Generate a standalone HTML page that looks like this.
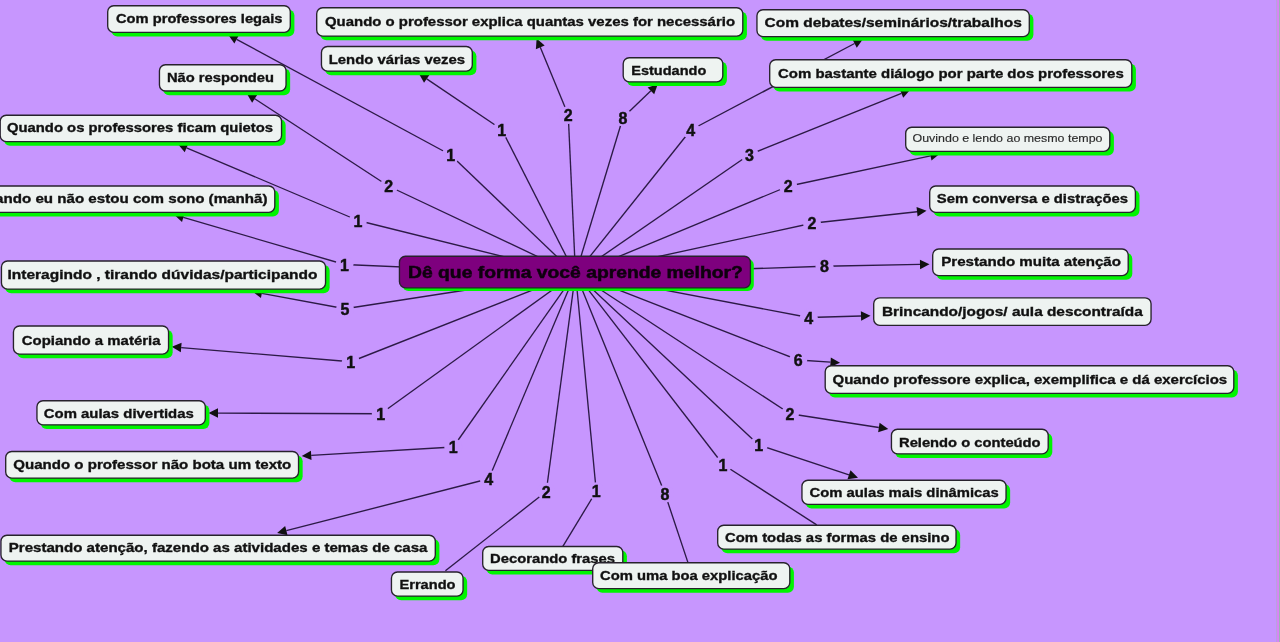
<!DOCTYPE html>
<html><head><meta charset="utf-8"><style>html,body{margin:0;padding:0;width:1280px;height:642px;overflow:hidden;background:#c796fe;font-family:"Liberation Sans",sans-serif}</style></head>
<body>
<svg width="1280" height="642" viewBox="0 0 1280 642" style="position:absolute;left:0;top:0;will-change:transform">
<rect x="0" y="0" width="1280" height="642" fill="#c796fe"/>
<rect x="1276" y="0" width="1" height="642" fill="#b8a2e0"/>
<rect x="1277" y="0" width="2" height="642" fill="#d883f6"/>
<rect x="1279" y="0" width="1" height="642" fill="#9cb4b4"/>
<line x1="575.5" y1="274.5" x2="450.75" y2="155" stroke="#2c1a46" stroke-width="1.35"/>
<line x1="450.75" y1="155" x2="236.61" y2="39.32" stroke="#2c1a46" stroke-width="1.35"/>
<polygon points="228.25,34.80 238.86,35.14 234.35,43.49" fill="#111"/>
<line x1="575.5" y1="274.5" x2="568.25" y2="115" stroke="#2c1a46" stroke-width="1.35"/>
<line x1="568.25" y1="115" x2="540.27" y2="47.33" stroke="#2c1a46" stroke-width="1.35"/>
<polygon points="536.64,38.55 544.66,45.51 535.88,49.14" fill="#111"/>
<line x1="575.5" y1="274.5" x2="690.75" y2="130" stroke="#2c1a46" stroke-width="1.35"/>
<line x1="690.75" y1="130" x2="854.57" y2="43.49" stroke="#2c1a46" stroke-width="1.35"/>
<polygon points="862.97,39.05 856.79,47.69 852.35,39.29" fill="#111"/>
<line x1="575.5" y1="274.5" x2="501.75" y2="129.5" stroke="#2c1a46" stroke-width="1.35"/>
<line x1="501.75" y1="129.5" x2="426.69" y2="78.86" stroke="#2c1a46" stroke-width="1.35"/>
<polygon points="418.81,73.55 429.35,74.93 424.03,82.80" fill="#111"/>
<line x1="575.5" y1="274.5" x2="623" y2="117.5" stroke="#2c1a46" stroke-width="1.35"/>
<line x1="623" y1="117.5" x2="650.89" y2="90.86" stroke="#2c1a46" stroke-width="1.35"/>
<polygon points="657.76,84.30 654.17,94.30 647.61,87.43" fill="#111"/>
<line x1="575.5" y1="274.5" x2="749.5" y2="154.5" stroke="#2c1a46" stroke-width="1.35"/>
<line x1="749.5" y1="154.5" x2="901.44" y2="93.35" stroke="#2c1a46" stroke-width="1.35"/>
<polygon points="910.25,89.80 903.21,97.75 899.67,88.94" fill="#111"/>
<line x1="575.5" y1="274.5" x2="388.75" y2="186.25" stroke="#2c1a46" stroke-width="1.35"/>
<line x1="388.75" y1="186.25" x2="254.71" y2="98.74" stroke="#2c1a46" stroke-width="1.35"/>
<polygon points="246.76,93.55 257.31,94.77 252.12,102.72" fill="#111"/>
<line x1="575.5" y1="274.5" x2="358" y2="220.5" stroke="#2c1a46" stroke-width="1.35"/>
<line x1="358" y1="220.5" x2="186.56" y2="147.76" stroke="#2c1a46" stroke-width="1.35"/>
<polygon points="177.82,144.05 188.42,143.39 184.71,152.13" fill="#111"/>
<line x1="575.5" y1="274.5" x2="788.25" y2="186.25" stroke="#2c1a46" stroke-width="1.35"/>
<line x1="788.25" y1="186.25" x2="930.51" y2="155.79" stroke="#2c1a46" stroke-width="1.35"/>
<polygon points="939.80,153.80 931.50,160.43 929.51,151.14" fill="#111"/>
<line x1="575.5" y1="274.5" x2="344.5" y2="264.5" stroke="#2c1a46" stroke-width="1.35"/>
<line x1="344.5" y1="264.5" x2="183.33" y2="217.46" stroke="#2c1a46" stroke-width="1.35"/>
<polygon points="174.21,214.80 184.66,212.90 182.00,222.02" fill="#111"/>
<line x1="575.5" y1="274.5" x2="812" y2="223.25" stroke="#2c1a46" stroke-width="1.35"/>
<line x1="812" y1="223.25" x2="917.06" y2="211.76" stroke="#2c1a46" stroke-width="1.35"/>
<polygon points="926.50,210.73 917.57,216.48 916.54,207.04" fill="#111"/>
<line x1="575.5" y1="274.5" x2="824.5" y2="266.25" stroke="#2c1a46" stroke-width="1.35"/>
<line x1="824.5" y1="266.25" x2="920.00" y2="264.40" stroke="#2c1a46" stroke-width="1.35"/>
<polygon points="929.50,264.21 920.09,269.14 919.91,259.65" fill="#111"/>
<line x1="575.5" y1="273.2" x2="345" y2="308.75" stroke="#2c1a46" stroke-width="1.35"/>
<line x1="345" y1="308.75" x2="261.84" y2="293.29" stroke="#2c1a46" stroke-width="1.35"/>
<polygon points="252.50,291.55 262.71,288.62 260.97,297.96" fill="#111"/>
<line x1="575.5" y1="273.2" x2="808.75" y2="317.5" stroke="#2c1a46" stroke-width="1.35"/>
<line x1="808.75" y1="317.5" x2="861.00" y2="315.97" stroke="#2c1a46" stroke-width="1.35"/>
<polygon points="870.50,315.70 861.14,320.72 860.87,311.23" fill="#111"/>
<line x1="575.5" y1="273.2" x2="350.75" y2="361.75" stroke="#2c1a46" stroke-width="1.35"/>
<line x1="350.75" y1="361.75" x2="181.22" y2="347.55" stroke="#2c1a46" stroke-width="1.35"/>
<polygon points="171.75,346.76 181.61,342.82 180.82,352.29" fill="#111"/>
<line x1="575.5" y1="273.2" x2="798.25" y2="360" stroke="#2c1a46" stroke-width="1.35"/>
<line x1="798.25" y1="360" x2="830.52" y2="362.16" stroke="#2c1a46" stroke-width="1.35"/>
<polygon points="840.00,362.80 830.20,366.90 830.84,357.42" fill="#111"/>
<line x1="575.5" y1="273.2" x2="380.75" y2="413.75" stroke="#2c1a46" stroke-width="1.35"/>
<line x1="380.75" y1="413.75" x2="218.00" y2="413.12" stroke="#2c1a46" stroke-width="1.35"/>
<polygon points="208.50,413.09 218.02,408.37 217.98,417.87" fill="#111"/>
<line x1="575.5" y1="273.2" x2="790" y2="413.75" stroke="#2c1a46" stroke-width="1.35"/>
<line x1="790" y1="413.75" x2="878.86" y2="427.46" stroke="#2c1a46" stroke-width="1.35"/>
<polygon points="888.25,428.91 878.14,432.16 879.59,422.77" fill="#111"/>
<line x1="575.5" y1="273.2" x2="453.25" y2="447" stroke="#2c1a46" stroke-width="1.35"/>
<line x1="453.25" y1="447" x2="311.23" y2="455.37" stroke="#2c1a46" stroke-width="1.35"/>
<polygon points="301.75,455.93 310.95,450.63 311.51,460.11" fill="#111"/>
<line x1="575.5" y1="273.2" x2="758.75" y2="445" stroke="#2c1a46" stroke-width="1.35"/>
<line x1="758.75" y1="445" x2="848.98" y2="474.82" stroke="#2c1a46" stroke-width="1.35"/>
<polygon points="858.00,477.80 847.49,479.33 850.47,470.31" fill="#111"/>
<line x1="575.5" y1="273.2" x2="723" y2="464.5" stroke="#2c1a46" stroke-width="1.35"/>
<line x1="723" y1="464.5" x2="816.68" y2="524.83" stroke="#2c1a46" stroke-width="1.35"/>
<line x1="575.5" y1="273.2" x2="488.75" y2="478.75" stroke="#2c1a46" stroke-width="1.35"/>
<line x1="488.75" y1="478.75" x2="286.33" y2="530.64" stroke="#2c1a46" stroke-width="1.35"/>
<polygon points="277.13,533.00 285.15,526.04 287.51,535.24" fill="#111"/>
<line x1="575.5" y1="273.2" x2="596.25" y2="491.25" stroke="#2c1a46" stroke-width="1.35"/>
<line x1="596.25" y1="491.25" x2="562.72" y2="546.71" stroke="#2c1a46" stroke-width="1.35"/>
<line x1="575.5" y1="273.2" x2="665" y2="493.75" stroke="#2c1a46" stroke-width="1.35"/>
<line x1="665" y1="493.75" x2="688.13" y2="563.15" stroke="#2c1a46" stroke-width="1.35"/>
<line x1="575.5" y1="273.2" x2="546.25" y2="491.5" stroke="#2c1a46" stroke-width="1.35"/>
<line x1="546.25" y1="491.5" x2="445.43" y2="570.74" stroke="#2c1a46" stroke-width="1.35"/>
<circle cx="450.75" cy="155" r="9" fill="#c796fe"/>
<text x="450.75" y="161.1" text-anchor="middle" font-family="Liberation Sans" font-weight="bold" font-size="16" fill="#111" stroke="#111" stroke-width="0.45">1</text>
<circle cx="568.25" cy="115" r="9" fill="#c796fe"/>
<text x="568.25" y="121.1" text-anchor="middle" font-family="Liberation Sans" font-weight="bold" font-size="16" fill="#111" stroke="#111" stroke-width="0.45">2</text>
<circle cx="690.75" cy="130" r="9" fill="#c796fe"/>
<text x="690.75" y="136.1" text-anchor="middle" font-family="Liberation Sans" font-weight="bold" font-size="16" fill="#111" stroke="#111" stroke-width="0.45">4</text>
<circle cx="501.75" cy="129.5" r="9" fill="#c796fe"/>
<text x="501.75" y="135.6" text-anchor="middle" font-family="Liberation Sans" font-weight="bold" font-size="16" fill="#111" stroke="#111" stroke-width="0.45">1</text>
<circle cx="623" cy="117.5" r="9" fill="#c796fe"/>
<text x="623" y="123.6" text-anchor="middle" font-family="Liberation Sans" font-weight="bold" font-size="16" fill="#111" stroke="#111" stroke-width="0.45">8</text>
<circle cx="749.5" cy="154.5" r="9" fill="#c796fe"/>
<text x="749.5" y="160.6" text-anchor="middle" font-family="Liberation Sans" font-weight="bold" font-size="16" fill="#111" stroke="#111" stroke-width="0.45">3</text>
<circle cx="388.75" cy="186.25" r="9" fill="#c796fe"/>
<text x="388.75" y="192.35" text-anchor="middle" font-family="Liberation Sans" font-weight="bold" font-size="16" fill="#111" stroke="#111" stroke-width="0.45">2</text>
<circle cx="358" cy="220.5" r="9" fill="#c796fe"/>
<text x="358" y="226.6" text-anchor="middle" font-family="Liberation Sans" font-weight="bold" font-size="16" fill="#111" stroke="#111" stroke-width="0.45">1</text>
<circle cx="788.25" cy="186.25" r="9" fill="#c796fe"/>
<text x="788.25" y="192.35" text-anchor="middle" font-family="Liberation Sans" font-weight="bold" font-size="16" fill="#111" stroke="#111" stroke-width="0.45">2</text>
<circle cx="344.5" cy="264.5" r="9" fill="#c796fe"/>
<text x="344.5" y="270.6" text-anchor="middle" font-family="Liberation Sans" font-weight="bold" font-size="16" fill="#111" stroke="#111" stroke-width="0.45">1</text>
<circle cx="812" cy="223.25" r="9" fill="#c796fe"/>
<text x="812" y="229.35" text-anchor="middle" font-family="Liberation Sans" font-weight="bold" font-size="16" fill="#111" stroke="#111" stroke-width="0.45">2</text>
<circle cx="824.5" cy="266.25" r="9" fill="#c796fe"/>
<text x="824.5" y="272.35" text-anchor="middle" font-family="Liberation Sans" font-weight="bold" font-size="16" fill="#111" stroke="#111" stroke-width="0.45">8</text>
<circle cx="345" cy="308.75" r="9" fill="#c796fe"/>
<text x="345" y="314.85" text-anchor="middle" font-family="Liberation Sans" font-weight="bold" font-size="16" fill="#111" stroke="#111" stroke-width="0.45">5</text>
<circle cx="808.75" cy="317.5" r="9" fill="#c796fe"/>
<text x="808.75" y="323.6" text-anchor="middle" font-family="Liberation Sans" font-weight="bold" font-size="16" fill="#111" stroke="#111" stroke-width="0.45">4</text>
<circle cx="350.75" cy="361.75" r="9" fill="#c796fe"/>
<text x="350.75" y="367.85" text-anchor="middle" font-family="Liberation Sans" font-weight="bold" font-size="16" fill="#111" stroke="#111" stroke-width="0.45">1</text>
<circle cx="798.25" cy="360" r="9" fill="#c796fe"/>
<text x="798.25" y="366.1" text-anchor="middle" font-family="Liberation Sans" font-weight="bold" font-size="16" fill="#111" stroke="#111" stroke-width="0.45">6</text>
<circle cx="380.75" cy="413.75" r="9" fill="#c796fe"/>
<text x="380.75" y="419.85" text-anchor="middle" font-family="Liberation Sans" font-weight="bold" font-size="16" fill="#111" stroke="#111" stroke-width="0.45">1</text>
<circle cx="790" cy="413.75" r="9" fill="#c796fe"/>
<text x="790" y="419.85" text-anchor="middle" font-family="Liberation Sans" font-weight="bold" font-size="16" fill="#111" stroke="#111" stroke-width="0.45">2</text>
<circle cx="453.25" cy="447" r="9" fill="#c796fe"/>
<text x="453.25" y="453.1" text-anchor="middle" font-family="Liberation Sans" font-weight="bold" font-size="16" fill="#111" stroke="#111" stroke-width="0.45">1</text>
<circle cx="758.75" cy="445" r="9" fill="#c796fe"/>
<text x="758.75" y="451.1" text-anchor="middle" font-family="Liberation Sans" font-weight="bold" font-size="16" fill="#111" stroke="#111" stroke-width="0.45">1</text>
<circle cx="723" cy="464.5" r="9" fill="#c796fe"/>
<text x="723" y="470.6" text-anchor="middle" font-family="Liberation Sans" font-weight="bold" font-size="16" fill="#111" stroke="#111" stroke-width="0.45">1</text>
<circle cx="488.75" cy="478.75" r="9" fill="#c796fe"/>
<text x="488.75" y="484.85" text-anchor="middle" font-family="Liberation Sans" font-weight="bold" font-size="16" fill="#111" stroke="#111" stroke-width="0.45">4</text>
<circle cx="596.25" cy="491.25" r="9" fill="#c796fe"/>
<text x="596.25" y="497.35" text-anchor="middle" font-family="Liberation Sans" font-weight="bold" font-size="16" fill="#111" stroke="#111" stroke-width="0.45">1</text>
<circle cx="665" cy="493.75" r="9" fill="#c796fe"/>
<text x="665" y="499.85" text-anchor="middle" font-family="Liberation Sans" font-weight="bold" font-size="16" fill="#111" stroke="#111" stroke-width="0.45">8</text>
<circle cx="546.25" cy="491.5" r="9" fill="#c796fe"/>
<text x="546.25" y="497.6" text-anchor="middle" font-family="Liberation Sans" font-weight="bold" font-size="16" fill="#111" stroke="#111" stroke-width="0.45">2</text>
<rect x="402.45" y="259" width="351.35" height="32" rx="6" fill="#00f500"/>
<rect x="399.45" y="256.2" width="350.95000000000005" height="31.6" rx="6" fill="#7e007e" stroke="#27222c" stroke-width="1.35"/>
<text x="408" y="277.5" font-family="Liberation Sans" font-weight="bold" font-size="17" fill="#0e000e" stroke="#0e000e" stroke-width="0.5" textLength="334.79999999999995" lengthAdjust="spacingAndGlyphs">Dê que forma você aprende melhor?</text>
<rect x="111.4" y="9.5" width="183.0" height="27.0" rx="6" fill="#00f500"/>
<rect x="107.7" y="5.7" width="182.6" height="26.6" rx="6" fill="#eef3f1" stroke="#27222c" stroke-width="1.35"/>
<text x="116" y="23.25" font-family="Liberation Sans" font-weight="bold" font-size="13.5" fill="#111" stroke="#111" stroke-width="0.35" textLength="166.50" lengthAdjust="spacingAndGlyphs">Com professores legais</text>
<rect x="320.4" y="11.5" width="426.5" height="28.75" rx="6" fill="#00f500"/>
<rect x="316.7" y="7.7" width="426.1" height="28.35" rx="6" fill="#eef3f1" stroke="#27222c" stroke-width="1.35"/>
<text x="325" y="26.25" font-family="Liberation Sans" font-weight="bold" font-size="13.5" fill="#111" stroke="#111" stroke-width="0.35" textLength="410.00" lengthAdjust="spacingAndGlyphs">Quando o professor explica quantas vezes for necessário</text>
<rect x="760.65" y="13.5" width="272.75" height="27.25" rx="6" fill="#00f500"/>
<rect x="756.95" y="9.7" width="272.35" height="26.85" rx="6" fill="#eef3f1" stroke="#27222c" stroke-width="1.35"/>
<text x="764.5" y="27" font-family="Liberation Sans" font-weight="bold" font-size="13.5" fill="#111" stroke="#111" stroke-width="0.35" textLength="257.25" lengthAdjust="spacingAndGlyphs">Com debates/seminários/trabalhos</text>
<rect x="325.15" y="50.25" width="151.25" height="25.0" rx="6" fill="#00f500"/>
<rect x="321.45" y="46.45" width="150.85" height="24.6" rx="6" fill="#eef3f1" stroke="#27222c" stroke-width="1.35"/>
<text x="328.75" y="63.75" font-family="Liberation Sans" font-weight="bold" font-size="13.5" fill="#111" stroke="#111" stroke-width="0.35" textLength="136.25" lengthAdjust="spacingAndGlyphs">Lendo várias vezes</text>
<rect x="626.9" y="61.5" width="100" height="24.5" rx="6" fill="#00f500"/>
<rect x="623.2" y="57.7" width="99.6" height="24.1" rx="6" fill="#eef3f1" stroke="#27222c" stroke-width="1.35"/>
<text x="631.25" y="75" font-family="Liberation Sans" font-weight="bold" font-size="13.5" fill="#111" stroke="#111" stroke-width="0.35" textLength="75.00" lengthAdjust="spacingAndGlyphs">Estudando</text>
<rect x="773.4" y="63.5" width="362.5" height="28.0" rx="6" fill="#00f500"/>
<rect x="769.7" y="59.7" width="362.1" height="27.6" rx="6" fill="#eef3f1" stroke="#27222c" stroke-width="1.35"/>
<text x="778" y="77.5" font-family="Liberation Sans" font-weight="bold" font-size="13.5" fill="#111" stroke="#111" stroke-width="0.35" textLength="345.75" lengthAdjust="spacingAndGlyphs">Com bastante diálogo por parte dos professores</text>
<rect x="163.15" y="68.5" width="127.0" height="26.75" rx="6" fill="#00f500"/>
<rect x="159.45" y="64.7" width="126.6" height="26.35" rx="6" fill="#eef3f1" stroke="#27222c" stroke-width="1.35"/>
<text x="167" y="82" font-family="Liberation Sans" font-weight="bold" font-size="13.5" fill="#111" stroke="#111" stroke-width="0.35" textLength="107.00" lengthAdjust="spacingAndGlyphs">Não respondeu</text>
<rect x="3.9" y="119" width="281.75" height="26.75" rx="6" fill="#00f500"/>
<rect x="0.2" y="115.2" width="281.35" height="26.35" rx="6" fill="#eef3f1" stroke="#27222c" stroke-width="1.35"/>
<text x="7" y="131.75" font-family="Liberation Sans" font-weight="bold" font-size="13.5" fill="#111" stroke="#111" stroke-width="0.35" textLength="266.00" lengthAdjust="spacingAndGlyphs">Quando os professores ficam quietos</text>
<rect x="909.4" y="131" width="204.5" height="24.5" rx="6" fill="#00f500"/>
<rect x="905.7" y="127.2" width="204.1" height="24.1" rx="6" fill="#eef3f1" stroke="#27222c" stroke-width="1.35"/>
<text x="912.5" y="142.2" font-family="Liberation Sans" font-weight="normal" font-size="11.5" fill="#2a2a2a" stroke="#2a2a2a" stroke-width="0.15" textLength="190.00" lengthAdjust="spacingAndGlyphs">Ouvindo e lendo ao mesmo tempo</text>
<rect x="-30.1" y="189.75" width="309" height="26.75" rx="6" fill="#00f500"/>
<rect x="-33.8" y="185.95" width="308.6" height="26.35" rx="6" fill="#eef3f1" stroke="#27222c" stroke-width="1.35"/>
<text x="-26" y="202.5" font-family="Liberation Sans" font-weight="bold" font-size="13.5" fill="#111" stroke="#111" stroke-width="0.35" textLength="293.50" lengthAdjust="spacingAndGlyphs">Quando eu não estou com sono (manhã)</text>
<rect x="933.4" y="189.75" width="206.0999999999999" height="26.75" rx="6" fill="#00f500"/>
<rect x="929.7" y="185.95" width="205.6999999999999" height="26.35" rx="6" fill="#eef3f1" stroke="#27222c" stroke-width="1.35"/>
<text x="936.75" y="202.5" font-family="Liberation Sans" font-weight="bold" font-size="13.5" fill="#111" stroke="#111" stroke-width="0.35" textLength="191.25" lengthAdjust="spacingAndGlyphs">Sem conversa e distrações</text>
<rect x="936.4" y="252.75" width="195.9000000000001" height="27.0" rx="6" fill="#00f500"/>
<rect x="932.7" y="248.95" width="195.50000000000009" height="26.6" rx="6" fill="#eef3f1" stroke="#27222c" stroke-width="1.35"/>
<text x="941.25" y="265.75" font-family="Liberation Sans" font-weight="bold" font-size="13.5" fill="#111" stroke="#111" stroke-width="0.35" textLength="179.75" lengthAdjust="spacingAndGlyphs">Prestando muita atenção</text>
<rect x="5.15" y="264.75" width="324.5" height="28.5" rx="6" fill="#00f500"/>
<rect x="1.45" y="260.95" width="324.1" height="28.1" rx="6" fill="#eef3f1" stroke="#27222c" stroke-width="1.35"/>
<text x="7.5" y="279.25" font-family="Liberation Sans" font-weight="bold" font-size="13.5" fill="#111" stroke="#111" stroke-width="0.35" textLength="310.00" lengthAdjust="spacingAndGlyphs">Interagindo , tirando dúvidas/participando</text>
<rect x="873.7" y="297.8" width="277.35" height="27.49999999999998" rx="6" fill="#eef3f1" stroke="#27222c" stroke-width="1.35"/>
<text x="881.9" y="316" font-family="Liberation Sans" font-weight="bold" font-size="13.5" fill="#111" stroke="#111" stroke-width="0.35" textLength="260.90" lengthAdjust="spacingAndGlyphs">Brincando/jogos/ aula descontraída</text>
<rect x="17.15" y="329.75" width="155.5" height="28.5" rx="6" fill="#00f500"/>
<rect x="13.45" y="325.95" width="155.1" height="28.1" rx="6" fill="#eef3f1" stroke="#27222c" stroke-width="1.35"/>
<text x="21.75" y="344.5" font-family="Liberation Sans" font-weight="bold" font-size="13.5" fill="#111" stroke="#111" stroke-width="0.35" textLength="138.75" lengthAdjust="spacingAndGlyphs">Copiando a matéria</text>
<rect x="828.9" y="369.5" width="409" height="28.0" rx="6" fill="#00f500"/>
<rect x="825.2" y="365.7" width="408.6" height="27.6" rx="6" fill="#eef3f1" stroke="#27222c" stroke-width="1.35"/>
<text x="832.5" y="383.75" font-family="Liberation Sans" font-weight="bold" font-size="13.5" fill="#111" stroke="#111" stroke-width="0.35" textLength="394.70" lengthAdjust="spacingAndGlyphs">Quando professore explica, exemplifica e dá exercícios</text>
<rect x="40.65" y="404.5" width="168.75" height="24.5" rx="6" fill="#00f500"/>
<rect x="36.95" y="400.7" width="168.35" height="24.1" rx="6" fill="#eef3f1" stroke="#27222c" stroke-width="1.35"/>
<text x="43.75" y="417.5" font-family="Liberation Sans" font-weight="bold" font-size="13.5" fill="#111" stroke="#111" stroke-width="0.35" textLength="150.00" lengthAdjust="spacingAndGlyphs">Com aulas divertidas</text>
<rect x="895.15" y="433" width="157.1500000000001" height="25" rx="6" fill="#00f500"/>
<rect x="891.45" y="429.2" width="156.75000000000009" height="24.6" rx="6" fill="#eef3f1" stroke="#27222c" stroke-width="1.35"/>
<text x="899" y="447.2" font-family="Liberation Sans" font-weight="bold" font-size="13.5" fill="#111" stroke="#111" stroke-width="0.35" textLength="141.60" lengthAdjust="spacingAndGlyphs">Relendo o conteúdo</text>
<rect x="9.4" y="455.25" width="293.25" height="27.0" rx="6" fill="#00f500"/>
<rect x="5.7" y="451.45" width="292.85" height="26.6" rx="6" fill="#eef3f1" stroke="#27222c" stroke-width="1.35"/>
<text x="13.25" y="468.75" font-family="Liberation Sans" font-weight="bold" font-size="13.5" fill="#111" stroke="#111" stroke-width="0.35" textLength="278.00" lengthAdjust="spacingAndGlyphs">Quando o professor não bota um texto</text>
<rect x="805.65" y="484" width="204.5" height="24.5" rx="6" fill="#00f500"/>
<rect x="801.95" y="480.2" width="204.1" height="24.1" rx="6" fill="#eef3f1" stroke="#27222c" stroke-width="1.35"/>
<text x="809.5" y="497" font-family="Liberation Sans" font-weight="bold" font-size="13.5" fill="#111" stroke="#111" stroke-width="0.35" textLength="189.25" lengthAdjust="spacingAndGlyphs">Com aulas mais dinâmicas</text>
<rect x="721.4" y="529" width="238.75" height="24.25" rx="6" fill="#00f500"/>
<rect x="717.7" y="525.2" width="238.35" height="23.85" rx="6" fill="#eef3f1" stroke="#27222c" stroke-width="1.35"/>
<text x="725" y="542" font-family="Liberation Sans" font-weight="bold" font-size="13.5" fill="#111" stroke="#111" stroke-width="0.35" textLength="224.50" lengthAdjust="spacingAndGlyphs">Com todas as formas de ensino</text>
<rect x="4.65" y="539" width="434.75" height="26.25" rx="6" fill="#00f500"/>
<rect x="0.95" y="535.2" width="434.35" height="25.85" rx="6" fill="#eef3f1" stroke="#27222c" stroke-width="1.35"/>
<text x="8.75" y="552" font-family="Liberation Sans" font-weight="bold" font-size="13.5" fill="#111" stroke="#111" stroke-width="0.35" textLength="418.75" lengthAdjust="spacingAndGlyphs">Prestando atenção, fazendo as atividades e temas de casa</text>
<rect x="486.4" y="550.25" width="140.5" height="24.25" rx="6" fill="#00f500"/>
<rect x="482.7" y="546.45" width="140.1" height="23.85" rx="6" fill="#eef3f1" stroke="#27222c" stroke-width="1.35"/>
<text x="490" y="563.25" font-family="Liberation Sans" font-weight="bold" font-size="13.5" fill="#111" stroke="#111" stroke-width="0.35" textLength="125.00" lengthAdjust="spacingAndGlyphs">Decorando frases</text>
<rect x="596.4" y="566.5" width="197.5" height="26.25" rx="6" fill="#00f500"/>
<rect x="592.7" y="562.7" width="197.1" height="25.85" rx="6" fill="#eef3f1" stroke="#27222c" stroke-width="1.35"/>
<text x="600" y="580" font-family="Liberation Sans" font-weight="bold" font-size="13.5" fill="#111" stroke="#111" stroke-width="0.35" textLength="177.50" lengthAdjust="spacingAndGlyphs">Com uma boa explicação</text>
<rect x="395.15" y="575.75" width="72.0" height="24.5" rx="6" fill="#00f500"/>
<rect x="391.45" y="571.95" width="71.6" height="24.1" rx="6" fill="#eef3f1" stroke="#27222c" stroke-width="1.35"/>
<text x="399.5" y="589.25" font-family="Liberation Sans" font-weight="bold" font-size="13.5" fill="#111" stroke="#111" stroke-width="0.35" textLength="56.00" lengthAdjust="spacingAndGlyphs">Errando</text>
</svg>
</body></html>
